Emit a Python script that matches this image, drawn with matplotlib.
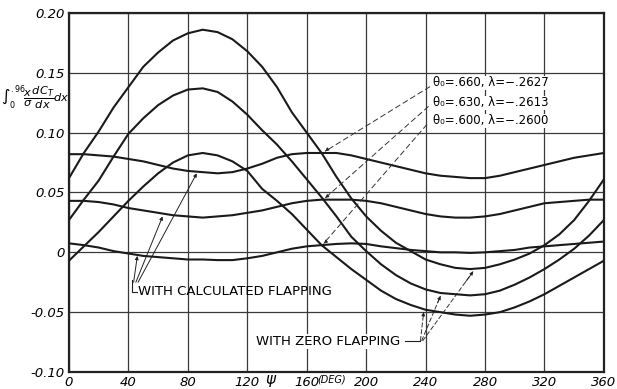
import numpy as np
import matplotlib
matplotlib.use("Agg")
import matplotlib.pyplot as plt

# ─────────────────────────────────────────────────────────────────────────────
# Data (psi in degrees, every 10 deg)
# ─────────────────────────────────────────────────────────────────────────────
psi = list(range(0, 361, 10))

# with zero flapping (large 1/rev swing)
zero_660 = [0.062, 0.083, 0.101, 0.121, 0.138, 0.155, 0.167, 0.177, 0.183, 0.186,
            0.184, 0.178, 0.168, 0.155, 0.138, 0.117, 0.100, 0.083, 0.063, 0.045,
            0.030, 0.018, 0.008, 0.001, -0.006, -0.010, -0.013, -0.014, -0.013, -0.010,
            -0.006, -0.001, 0.006, 0.015, 0.027, 0.043, 0.061]
zero_630 = [0.027, 0.044, 0.060, 0.080, 0.099, 0.112, 0.123, 0.131, 0.136, 0.137,
            0.134, 0.126, 0.115, 0.102, 0.090, 0.076, 0.061, 0.046, 0.030, 0.013,
            0.001, -0.010, -0.019, -0.026, -0.031, -0.034, -0.035, -0.036, -0.035, -0.032,
            -0.027, -0.021, -0.014, -0.006, 0.003, 0.014, 0.027]
zero_600 = [-0.007, 0.005, 0.017, 0.030, 0.043, 0.055, 0.066, 0.075, 0.081, 0.083,
            0.081, 0.076, 0.068, 0.053, 0.043, 0.032, 0.019, 0.006, -0.004, -0.014,
            -0.023, -0.032, -0.039, -0.044, -0.048, -0.050, -0.052, -0.053, -0.052, -0.050,
            -0.046, -0.041, -0.035, -0.028, -0.021, -0.014, -0.007]

# with calculated flapping (small swing)
calc_660 = [0.082, 0.082, 0.081, 0.080, 0.078, 0.076, 0.073, 0.070, 0.068, 0.067,
            0.066, 0.067, 0.070, 0.074, 0.079, 0.082, 0.083, 0.083, 0.083, 0.081,
            0.078, 0.075, 0.072, 0.069, 0.066, 0.064, 0.063, 0.062, 0.062, 0.064,
            0.067, 0.070, 0.073, 0.076, 0.079, 0.081, 0.083]
calc_630 = [0.043, 0.043, 0.042, 0.040, 0.037, 0.035, 0.033, 0.031, 0.030, 0.029,
            0.030, 0.031, 0.033, 0.035, 0.038, 0.041, 0.043, 0.044, 0.044, 0.044,
            0.043, 0.041, 0.038, 0.035, 0.032, 0.030, 0.029, 0.029, 0.030, 0.032,
            0.035, 0.038, 0.041, 0.042, 0.043, 0.044, 0.044]
calc_600 = [0.0075, 0.006, 0.004, 0.001, -0.001, -0.003, -0.004, -0.005, -0.006, -0.006,
            -0.0065, -0.0065, -0.005, -0.003, 0.000, 0.003, 0.005, 0.006, 0.007, 0.0075,
            0.007, 0.005, 0.0035, 0.002, 0.001, 0.000, 0.000, -0.0005, 0.000, 0.001,
            0.002, 0.004, 0.005, 0.006, 0.007, 0.008, 0.009]

case_labels = ["θ₀=.660, λ=−.2627", "θ₀=.630, λ=−.2613", "θ₀=.600, λ=−.2600"]

x_ticks = list(range(0, 361, 40))
x_ticklabels = ["0", "40", "80", "120", "160", "200", "240", "280", "320", "360"]
y_ticks = [-0.10, -0.05, 0.0, 0.05, 0.10, 0.15, 0.20]
y_ticklabels = ["-0.10", "-0.05", "0", "0.05", "0.10", "0.15", "0.20"]

# ─────────────────────────────────────────────────────────────────────────────
# Figure
# ─────────────────────────────────────────────────────────────────────────────
fig = plt.figure(figsize=(6.17, 3.89), dpi=100)
ax = fig.add_axes([0.1118, 0.0437, 0.867, 0.923])

ax.set_xlim(0, 360)
ax.set_ylim(-0.10, 0.20)
ax.set_xticks(x_ticks)
ax.set_yticks(y_ticks)
ax.set_xticklabels(x_ticklabels, fontsize=9.5, style="italic")
ax.set_yticklabels(y_ticklabels, fontsize=9.5, style="italic")
ax.tick_params(length=0, pad=3)
ax.grid(True, color="#3a3a3a", lw=0.9)
ax.set_axisbelow(True)
for sp in ax.spines.values():
    sp.set_linewidth(1.6)
    sp.set_color("#222222")

for ys in (zero_660, zero_630, zero_600, calc_660, calc_630, calc_600):
    ax.plot(psi, ys, color="#1a1a1a", lw=1.5, zorder=3, solid_joinstyle="round")

# ── x axis extras ────────────────────────────────────────────────────────────
ax.text(135.5, -0.1065, "ψ", fontsize=11, ha="center", va="center", style="italic")
ax.text(177, -0.1065, "(DEG)", fontsize=7, ha="center", va="center", style="italic")

# ── y axis label (integral) ─────────────────────────────────────────────────
fig.text(0.058, 0.75, r"$\int_0^{.96}\!\dfrac{x}{\sigma}\dfrac{dC_T}{dx}dx$",
         fontsize=8.2, ha="center", va="center")

# ── case labels with leaders to the crossing points ─────────────────────────
label_y = [0.1415, 0.1250, 0.1100]
tips = [(171, calc_660[17]), (171, calc_630[17]), (170, calc_600[17])]
for lbl, ly, (tx, ty), sx in zip(case_labels, label_y, tips, (243, 242, 241)):
    ax.text(245, ly, lbl, fontsize=8.5, ha="left", va="center",
            bbox=dict(fc="white", ec="none", pad=0.3), zorder=4)
    ax.plot([sx, tx + 1.5], [ly - 0.003, ty + 0.0015], color="#333333", lw=0.7,
            ls=(0, (6, 3)), zorder=4)
    ax.annotate("", xy=(tx, ty), xytext=(tx + 3, ty + 0.003),
                arrowprops=dict(arrowstyle="-|>", lw=0.6, color="#222222",
                                mutation_scale=5), zorder=5)

# ── "WITH CALCULATED FLAPPING" ──────────────────────────────────────────────
ax.text(46.5, -0.033, "WITH CALCULATED FLAPPING", fontsize=9.5,
        ha="left", va="center")
ax.plot([42.5, 42.5, 45.5], [-0.023, -0.0335, -0.0335], color="#222222", lw=0.8)
calc_tips = [(46, -0.003), (63, 0.030), (86, 0.066)]
for (tx, ty), sx in zip(calc_tips, (43.5, 45.0, 46.5)):
    ax.annotate("", xy=(tx, ty), xytext=(sx, -0.025),
                arrowprops=dict(arrowstyle="-|>", lw=0.7, color="#222222",
                                mutation_scale=5, shrinkA=0, shrinkB=0))

# ── "WITH ZERO FLAPPING" ────────────────────────────────────────────────────
ax.text(223, -0.0745, "WITH ZERO FLAPPING", fontsize=9.5, ha="right", va="center",
        bbox=dict(fc="white", ec="none", pad=0.5))
ax.plot([226, 236], [-0.074, -0.074], color="#222222", lw=0.8)
zero_tips = [(238.7, -0.050), (250, -0.0365), (272, -0.0160)]
for (tx, ty), sx in zip(zero_tips, (236.5, 237.3, 238.0)):
    ax.plot([sx, tx], [-0.074, ty], color="#333333", lw=0.7, ls=(0, (5, 2)))
    ax.annotate("", xy=(tx, ty), xytext=(sx + (tx - sx) * 0.85, -0.074 + (ty + 0.074) * 0.85),
                arrowprops=dict(arrowstyle="-|>", lw=0.6, color="#222222",
                                mutation_scale=5, shrinkA=0, shrinkB=0))

fig.savefig("out.png", dpi=100)
